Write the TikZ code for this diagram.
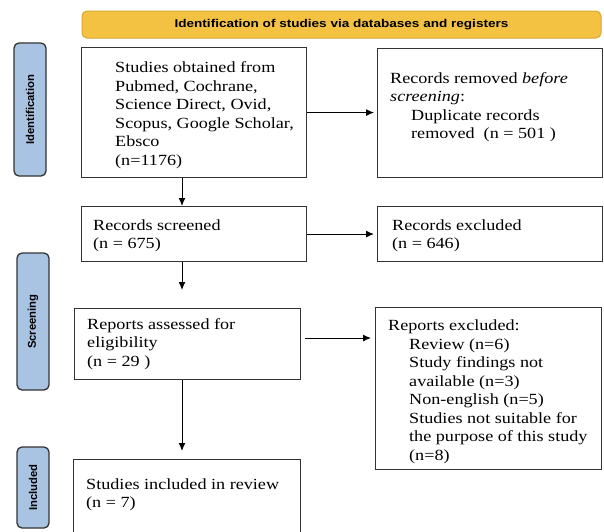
\documentclass[tikz,border=0pt]{standalone}
\usepackage{fontspec}
\setmainfont{Liberation Serif}[FakeStretch=1.17]
\newfontfamily\hdrfont{Liberation Sans}[FakeStretch=1.2]
\newfontfamily\sidefont{Liberation Sans}
\usetikzlibrary{arrows.meta}
\definecolor{hdrfill}{HTML}{F4C243}
\definecolor{hdrline}{HTML}{D9A730}
\definecolor{sidefill}{HTML}{A9C3E3}
\definecolor{sideline}{HTML}{333333}
\definecolor{boxline}{HTML}{333333}
\newcommand\textlines[1]{\vtop{\baselineskip=18.5pt\lineskiplimit=-20pt\halign{##\hfil\cr#1\crcr}}}
\newcommand\ind{\hskip21pt}
\begin{document}
\begin{tikzpicture}[x=1pt,y=-1pt,
  box/.style={draw=boxline, line width=1.1pt, inner sep=0, anchor=north west},
  txt/.style={anchor=base west, inner sep=0, font=\fontsize{15.5}{18.5}\selectfont},
  sidebox/.style={draw=sideline, fill=sidefill, rounded corners=5pt, line width=1.3pt, inner sep=0, rotate=90, font=\sidefont\bfseries\fontsize{11.3}{13}\selectfont},
  arr/.style={-{Latex[length=8pt,width=7pt]}, line width=1pt}]
\useasboundingbox (0,0) rectangle (604,531);
\clip (0,0) rectangle (604,531);
% header
\node[draw=hdrline, fill=hdrfill, rounded corners=5pt, line width=1pt, minimum width=519pt, minimum height=27pt, inner sep=0, font=\hdrfont\bfseries\fontsize{11.3}{13}\selectfont] (hdr) at (341.5,24.5) {Identification of studies via databases and registers};
% side labels
\node[sidebox, minimum width=133pt, minimum height=32pt] (sid1) at (30,109.5) {Identification};
\node[sidebox, minimum width=137pt, minimum height=32pt] (sid2) at (33,321.5) {Screening};
\node[sidebox, minimum width=81pt, minimum height=32pt] (sid3) at (33,487.5) {Included};
% boxes
\node[box, minimum width=225pt, minimum height=130pt] (b1) at (81,47) {};
\node[box, minimum width=225pt, minimum height=129pt] (b2) at (377,48) {};
\node[box, minimum width=225pt, minimum height=55pt] (rscr) at (81,206) {};
\node[box, minimum width=225pt, minimum height=55pt] (rexc) at (377,206) {};
\node[box, minimum width=226pt, minimum height=71pt] (rass) at (74,308) {};
\node[box, minimum width=226pt, minimum height=162pt] (repx) at (375,307) {};
\node[box, minimum width=227pt, minimum height=90pt] (incl) at (73,459) {};
% texts
\node[txt] (t1) at (115,72.7) {\textlines{Studies obtained from\cr Pubmed, Cochrane,\cr Science Direct, Ovid,\cr Scopus, Google Scholar,\cr Ebsco\cr (n=1176)}};
\node[txt] (t2) at (390,83) {\textlines{Records removed \textit{before}\cr \textit{screening}:\cr \ind Duplicate records\cr \ind removed\ \ (n = 501 )}};
\node[txt] (t3) at (93,230) {\textlines{Records screened\cr (n = 675)}};
\node[txt] (t4) at (392,230) {\textlines{Records excluded\cr (n = 646)}};
\node[txt] (t5) at (87,329) {\textlines{Reports assessed for\cr eligibility\cr (n = 29 )}};
\node[txt] (t6) at (388,330.7) {\textlines{Reports excluded:\cr \ind Review (n=6)\cr \ind Study findings not\cr \ind available (n=3)\cr \ind Non-english (n=5)\cr \ind Studies not suitable for\cr \ind the purpose of this study\cr \ind (n=8)}};
\node[txt] (t7) at (86,489) {\textlines{Studies included in review\cr (n = 7)}};
% connectors
\coordinate (vx) at (182,0);
\coordinate (e2) at (182,290);
\coordinate (h3) at (0,338);
\draw[arr] (b1.south -| vx) -- (rscr.north -| vx);
\draw[arr] (rscr.south -| vx) -- (e2);
\draw[arr, shorten >=8pt] (rass.south -| vx) -- (incl.north -| vx);
\draw[arr, shorten >=3pt] (b1.east) -- (b2.west |- b1.east);
\draw[arr, shorten >=3pt] (rscr.east) -- (rexc.west |- rscr.east);
\draw[arr, shorten <=4pt, shorten >=4pt] (rass.east |- h3) -- (repx.west |- h3);
\end{tikzpicture}
\end{document}
